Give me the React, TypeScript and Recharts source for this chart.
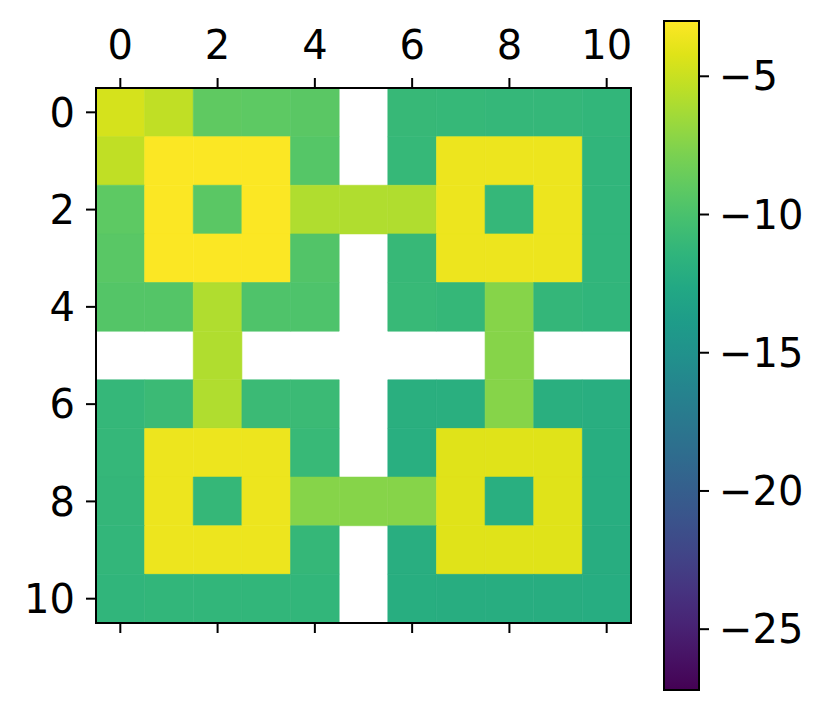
import React from "react";
import {
  ScatterChart,
  ComposedChart,
  Scatter,
  XAxis,
  YAxis,
  ReferenceArea,
} from "recharts";

// 11x11 grid, null = masked (white)
const values: (number | null)[][] = [
  [-4.55, -5.3, -9.0, -9.1, -9.25, null, -11.0, -11.05, -11.15, -11.15, -11.3],
  [-5.3, -3.1, -3.1, -3.1, -9.45, null, -11.05, -3.65, -3.65, -3.65, -11.35],
  [-9.1, -3.1, -9.25, -3.1, -5.9, -5.9, -5.9, -3.65, -11.15, -3.65, -11.35],
  [-9.3, -3.1, -3.1, -3.1, -9.6, null, -11.0, -3.65, -3.65, -3.65, -11.35],
  [-9.5, -9.5, -5.9, -9.75, -9.8, null, -10.95, -11.1, -7.4, -11.2, -11.35],
  [null, null, -5.9, null, null, null, null, null, -7.4, null, null],
  [-11.15, -10.8, -5.9, -10.8, -10.8, null, -11.95, -11.95, -7.4, -11.95, -12.05],
  [-11.15, -3.65, -3.65, -3.65, -10.95, null, -12.0, -4.15, -4.15, -4.15, -12.1],
  [-11.2, -3.65, -11.1, -3.65, -7.4, -7.4, -7.4, -4.15, -12.0, -4.15, -12.1],
  [-11.25, -3.65, -3.65, -3.65, -11.1, null, -12.05, -4.15, -4.15, -4.15, -12.15],
  [-11.35, -11.3, -11.3, -11.3, -11.3, null, -12.1, -12.15, -12.15, -12.15, -12.2],
];

const axisTicks = [0, 2, 4, 6, 8, 10];
const cbarTicks = [-25, -20, -15, -10, -5];
const vmin = -27.2;
const vmax = -3.0;

const viridisStops = [
  "#440154", "#471365", "#482475", "#463480", "#414487", "#3b528b",
  "#355f8d", "#2f6c8e", "#2a788e", "#25848e", "#21918c", "#1e9c89",
  "#22a884", "#2fb47c", "#44bf70", "#5ec962", "#7ad151", "#9bd93c",
  "#bddf26", "#dfe318", "#fde725",
];

function hexToRgb(h: string) {
  return [1, 3, 5].map((i) => parseInt(h.slice(i, i + 2), 16));
}

function viridis(v: number) {
  const f = Math.min(1, Math.max(0, (v - vmin) / (vmax - vmin)));
  const pos = f * (viridisStops.length - 1);
  const i = Math.min(viridisStops.length - 2, Math.floor(pos));
  const t = pos - i;
  const a = hexToRgb(viridisStops[i]);
  const b = hexToRgb(viridisStops[i + 1]);
  const c = a.map((x, k) => Math.round(x + (b[k] - x) * t));
  return `rgb(${c[0]},${c[1]},${c[2]})`;
}

const cells = values.flatMap((row, r) =>
  row.map((v, c) => ({ x: c, y: r, v })).filter((d) => d.v !== null)
);

const tickStyle = { fontFamily: "DejaVu Sans", fontSize: 40, fill: "#000" };
const tickLine = { stroke: "#000", strokeWidth: 2 };
const minus = (v: number) => String(v).replace("-", "\u2212");

export default function App() {
  return (
    <div style={{ position: "absolute", left: 0, top: 0, width: 829, height: 712, background: "#fff" }}>
      <div style={{ position: "absolute", left: 0, top: 0 }}>
        <ScatterChart width={829} height={712} margin={{ top: 48, right: 198, bottom: 79, left: 56 }}>
          <XAxis
            xAxisId="top"
            orientation="top"
            type="number"
            dataKey="x"
            domain={[-0.5, 10.5]}
            ticks={axisTicks}
            height={40}
            tickSize={10}
            tickMargin={19}
            axisLine={false}
            tickLine={tickLine}
            tick={tickStyle}
            allowDataOverflow
          />
          <XAxis
            xAxisId="bottom"
            orientation="bottom"
            type="number"
            dataKey="x"
            domain={[-0.5, 10.5]}
            ticks={axisTicks}
            height={10}
            tickSize={10}
            axisLine={false}
            tickLine={tickLine}
            tickFormatter={() => ""}
            allowDataOverflow
          />
          <YAxis
            yAxisId="left"
            type="number"
            dataKey="y"
            domain={[-0.5, 10.5]}
            reversed
            ticks={axisTicks}
            width={40}
            tickSize={10}
            tickMargin={11}
            axisLine={false}
            tickLine={tickLine}
            tick={tickStyle}
            allowDataOverflow
          />
          {cells.map((d) => (
            <ReferenceArea
              key={`${d.x}-${d.y}`}
              xAxisId="top"
              yAxisId="left"
              x1={d.x - 0.5}
              x2={d.x + 0.5}
              y1={d.y - 0.5}
              y2={d.y + 0.5}
              fill={viridis(d.v as number)}
              fillOpacity={1}
              stroke={viridis(d.v as number)}
              strokeWidth={0.6}
            />
          ))}
          <ReferenceArea
            xAxisId="top"
            yAxisId="left"
            x1={-0.5}
            x2={10.5}
            y1={-0.5}
            y2={10.5}
            fill="none"
            stroke="#000"
            strokeWidth={2}
          />
          <Scatter
            xAxisId="top"
            yAxisId="left"
            data={cells}
            isAnimationActive={false}
            shape={() => <g />}
          />
        </ScatterChart>
      </div>
      <div style={{ position: "absolute", left: 0, top: 0 }}>
        <ComposedChart width={829} height={712} margin={{ top: 21, right: 10, bottom: 22, left: 664 }}>
          <defs>
            <linearGradient id="viridisGrad" x1="0" y1="1" x2="0" y2="0">
              {viridisStops.map((c, i) => (
                <stop key={i} offset={`${(i / (viridisStops.length - 1)) * 100}%`} stopColor={c} />
              ))}
            </linearGradient>
          </defs>
          <XAxis type="number" dataKey="x" domain={[0, 1]} hide />
          <YAxis
            orientation="right"
            type="number"
            dataKey="y"
            domain={[vmin, vmax]}
            ticks={cbarTicks}
            width={120}
            tickSize={10}
            tickMargin={10}
            axisLine={false}
            tickLine={tickLine}
            tick={tickStyle}
            tickFormatter={minus}
            allowDataOverflow
          />
          <ReferenceArea
            x1={0}
            x2={1}
            y1={vmin}
            y2={vmax}
            fill="url(#viridisGrad)"
            fillOpacity={1}
            stroke="#000"
            strokeWidth={2}
          />
          <Scatter data={[{ x: 0.5, y: vmin }, { x: 0.5, y: vmax }]} isAnimationActive={false} shape={() => <g />} />
        </ComposedChart>
      </div>
    </div>
  );
}
